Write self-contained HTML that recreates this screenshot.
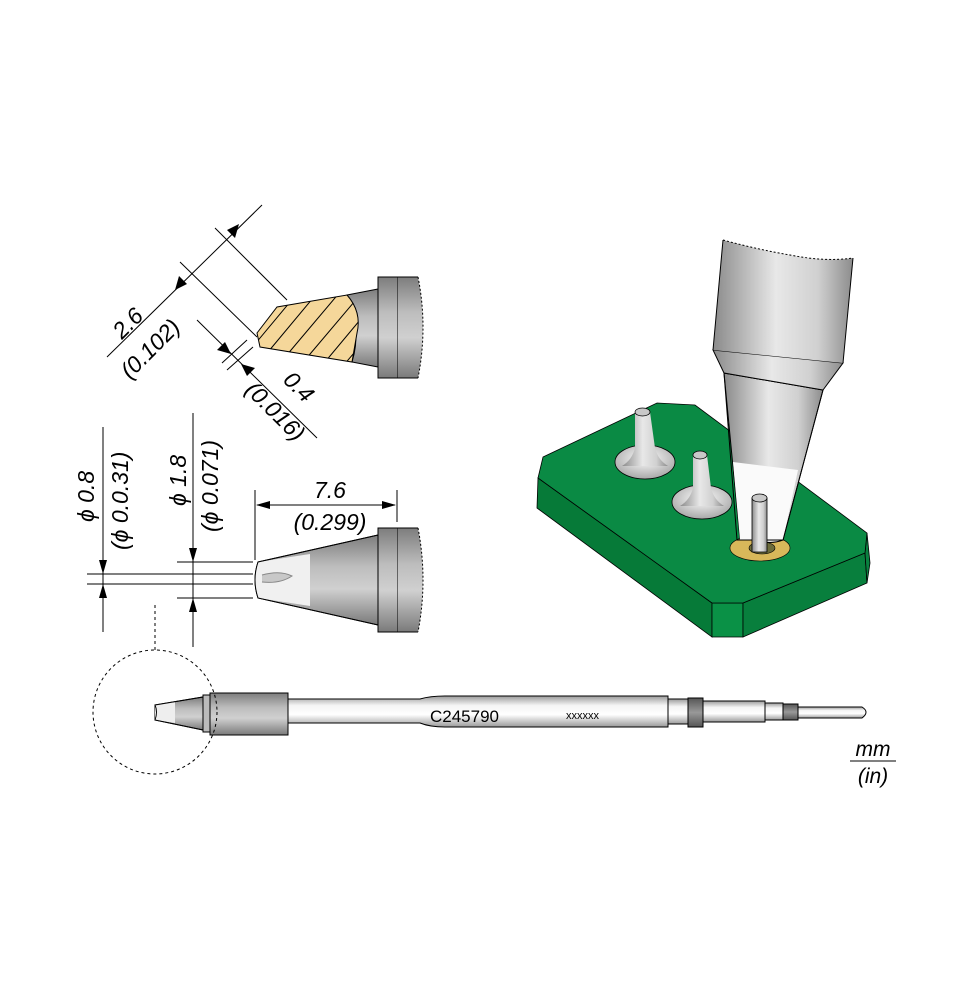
<!DOCTYPE html>
<html><head><meta charset="utf-8"><style>
html,body{margin:0;padding:0;background:#fff;}
svg{display:block;}
text{font-family:"Liberation Sans",Arial,sans-serif;}
</style></head><body>
<svg width="961" height="1000" viewBox="0 0 961 1000" xmlns="http://www.w3.org/2000/svg">
<defs>
<linearGradient id="gv" x1="0" y1="0" x2="0" y2="1">
<stop offset="0" stop-color="#7d7d7d"/><stop offset="0.35" stop-color="#bdbdbd"/><stop offset="0.6" stop-color="#d0d0d0"/><stop offset="1" stop-color="#7a7a7a"/></linearGradient>
<linearGradient id="gs" x1="0" y1="0" x2="0" y2="1">
<stop offset="0" stop-color="#9a9a9a"/><stop offset="0.3" stop-color="#f4f4f4"/><stop offset="0.6" stop-color="#ffffff"/><stop offset="1" stop-color="#9a9a9a"/></linearGradient>
<linearGradient id="gd" x1="0" y1="0" x2="0" y2="1">
<stop offset="0" stop-color="#555"/><stop offset="0.5" stop-color="#999"/><stop offset="1" stop-color="#555"/></linearGradient>
<linearGradient id="gh" x1="0" y1="0" x2="1" y2="0">
<stop offset="0" stop-color="#8a8a8a"/><stop offset="0.45" stop-color="#e8e8e8"/><stop offset="0.75" stop-color="#d0d0d0"/><stop offset="1" stop-color="#8c8c8c"/></linearGradient>
<radialGradient id="gp" cx="0.5" cy="0.4" r="0.6">
<stop offset="0" stop-color="#ffffff"/><stop offset="1" stop-color="#a8a8a8"/></radialGradient>
<clipPath id="hc"><path d="M257,333 L277,307 L347,295 Q362,312 357,333 L352,362 L260,347 Z"/></clipPath>
</defs>

<!-- ===== Top angled tip ===== -->
<g stroke="#000" stroke-width="1" fill="none">
<line x1="107" y1="357" x2="262" y2="205"/>
<line x1="180" y1="262" x2="257" y2="337"/>
<line x1="215" y1="228" x2="287" y2="300"/>
<line x1="197" y1="320" x2="317" y2="438"/>
<line x1="222" y1="363" x2="247" y2="340"/>
<line x1="227" y1="370" x2="253" y2="347"/>
</g>
<path d="M175,290 l4,-14 l8,8 z" fill="#000"/>
<path d="M239,224 l-4,14 l-8,-8 z" fill="#000"/>
<path d="M231,354 l-14,-4 l8,-8 z" fill="#000"/>
<path d="M241,364 l14,4 l-8,8 z" fill="#000"/>
<text font-size="23" font-style="italic" transform="translate(122,340) rotate(-45)">2.6</text>
<text font-size="23" font-style="italic" transform="translate(130,380) rotate(-45)">(0.102)</text>
<text font-size="23" font-style="italic" transform="translate(282,381) rotate(45)">0.4</text>
<text font-size="23" font-style="italic" transform="translate(244,391) rotate(45)">(0.016)</text>

<path d="M347,295 L378,289 L378,367 L352,362 Q362,330 347,295 Z" fill="url(#gv)" stroke="#000"/>
<rect x="378" y="277" width="20" height="101" fill="url(#gv)" stroke="#000"/>
<path d="M398,277 L418,277 Q428,327 418,378 L398,378 Z" fill="url(#gv)" stroke="none"/>
<path d="M398,277 L418,277 M398,378 L418,378" stroke="#000"/>
<path d="M418,277 Q428,327 418,378" stroke="#000" stroke-dasharray="2,2" fill="none"/>
<path d="M257,333 L277,307 L347,295 Q362,312 357,333 L352,362 L260,347 Z" fill="#f5d79a"/>
<g clip-path="url(#hc)" stroke="#000" stroke-width="1">
<line x1="250" y1="350" x2="300" y2="290"/><line x1="268" y1="352" x2="318" y2="292"/>
<line x1="286" y1="356" x2="340" y2="292"/><line x1="305" y1="360" x2="360" y2="295"/>
<line x1="325" y1="362" x2="370" y2="308"/><line x1="343" y1="366" x2="375" y2="328"/>
</g>
<path d="M257,333 L277,307 L347,295 Q362,312 357,333 L352,362 L260,347 Z" fill="none" stroke="#000"/>

<!-- ===== Middle tip ===== -->
<g stroke="#000" stroke-width="1">
<line x1="103" y1="427" x2="103" y2="632"/>
<line x1="193" y1="413" x2="193" y2="647"/>
<line x1="87" y1="574" x2="253" y2="574"/>
<line x1="87" y1="584" x2="253" y2="584"/>
<line x1="177" y1="562" x2="253" y2="562"/>
<line x1="177" y1="598" x2="253" y2="598"/>
<line x1="255" y1="490" x2="255" y2="560"/>
<line x1="397" y1="490" x2="397" y2="522"/>
<line x1="257" y1="505" x2="395" y2="505"/>
</g>
<path d="M103,574 l-4,-14 l8,0 z M103,584 l-4,14 l8,0 z M193,562 l-4,-14 l8,0 z M193,598 l-4,14 l8,0 z M256,505 l14,-4 l0,8 z M396,505 l-14,-4 l0,8 z" fill="#000"/>
<line x1="155" y1="605" x2="155" y2="650" stroke="#000" stroke-dasharray="3,3"/>
<text font-size="23" font-style="italic" transform="translate(94,522) rotate(-90)">ϕ 0.8</text>
<text font-size="23" font-style="italic" transform="translate(128,550) rotate(-90)">(ϕ 0.0.31)</text>
<text font-size="23" font-style="italic" transform="translate(186,506) rotate(-90)">ϕ 1.8</text>
<text font-size="23" font-style="italic" transform="translate(218,532) rotate(-90)">(ϕ 0.071)</text>
<text x="330" y="498" font-size="23" font-style="italic" text-anchor="middle">7.6</text>
<text x="330" y="530" font-size="23" font-style="italic" text-anchor="middle">(0.299)</text>

<path d="M258,562 L378,535 L378,625 L258,598 Q252,580 258,562 Z" fill="url(#gv)" stroke="#000"/>
<path d="M258,562 L310,554 L310,606 L258,598 Q252,580 258,562 Z" fill="#f0f0f0"/>
<path d="M258,562 L378,535 L378,625 L258,598 Q252,580 258,562 Z" fill="none" stroke="#000"/>
<path d="M262,575 Q280,570 292,576 Q280,584 262,582" fill="#c8c8c8" stroke="#888"/>
<rect x="378" y="528" width="20" height="104" fill="url(#gv)" stroke="#000"/>
<path d="M398,528 L418,528 Q428,580 418,632 L398,632 Z" fill="url(#gv)"/>
<path d="M398,528 L418,528 M398,632 L418,632" stroke="#000"/>
<path d="M418,528 Q428,580 418,632" stroke="#000" stroke-dasharray="2,2" fill="none"/>

<!-- ===== Bottom cartridge ===== -->
<path d="M288,699 L420,699 Q430,696 445,696 L668,696 L668,727 L445,727 Q430,727 420,723 L288,723 Z" fill="url(#gs)" stroke="#000"/>
<path d="M668,699 L688,699 L688,724 L668,724 Z" fill="url(#gs)" stroke="#000"/>
<rect x="688" y="698" width="15" height="29" fill="url(#gd)" stroke="#000"/>
<rect x="703" y="701" width="62" height="21" fill="url(#gs)" stroke="#000"/>
<rect x="765" y="703" width="18" height="17" fill="url(#gs)" stroke="#000"/>
<rect x="783" y="704" width="15" height="16" fill="url(#gd)" stroke="#000"/>
<path d="M798,707 L862,707 Q870,712 862,718 L798,718 Z" fill="url(#gs)" stroke="#000"/>
<rect x="210" y="693" width="78" height="42" fill="url(#gv)" stroke="#000"/>
<path d="M155,705 L203,697 L203,730 L155,720 Z" fill="url(#gv)" stroke="#000"/>
<path d="M155,705 L175,702 L175,723 L155,720 Z" fill="#eee" stroke="none"/>
<path d="M155,705 L203,697 L203,730 L155,720 Q158,712 155,705 Z" fill="none" stroke="#000"/>
<rect x="203" y="695" width="7" height="37" fill="#bbb" stroke="#000"/>
<circle cx="155" cy="712" r="62" fill="none" stroke="#000" stroke-dasharray="3,3"/>
<text x="430" y="722" font-size="17">C245790</text>
<text x="566" y="719" font-size="11">xxxxxx</text>

<text x="873" y="756" font-size="21" font-style="italic" text-anchor="middle">mm</text>
<line x1="850" y1="761" x2="896" y2="761" stroke="#000"/>
<text x="873" y="783" font-size="21" font-style="italic" text-anchor="middle">(in)</text>

<!-- ===== 3D board ===== -->
<path d="M538,478 L712,603 L712,637 L537,508 Z" fill="#067a38" stroke="#000" stroke-width="0.8"/>
<path d="M712,603 L743,603 L743,637 L712,637 Z" fill="#0a9146" stroke="#000" stroke-width="0.8"/>
<path d="M743,603 L865,553 L867,583 L743,637 Z" fill="#087f3d" stroke="#000" stroke-width="0.8"/>
<path d="M865,553 L867,533 L870,563 L867,583 Z" fill="#0a8040" stroke="#000" stroke-width="0.8"/>
<path d="M543,457 L657,403 L695,405 L867,533 L865,553 L743,603 L712,603 L538,478 Z" fill="#0a8a44" stroke="#000" stroke-width="0.8"/>
<ellipse cx="645" cy="462" rx="30" ry="17" fill="url(#gp)" stroke="#000" stroke-width="0.8"/>
<path d="M635,412 L635,448 Q632,460 622,466 L668,466 Q658,460 655,448 L650,412 Z" fill="url(#gh)"/>
<ellipse cx="642.5" cy="412" rx="7.5" ry="4" fill="#c8c8c8" stroke="#000" stroke-width="0.8"/>
<ellipse cx="702" cy="502" rx="30" ry="17" fill="url(#gp)" stroke="#000" stroke-width="0.8"/>
<path d="M693,455 L693,488 Q690,500 680,506 L724,506 Q714,500 711,488 L707,455 Z" fill="url(#gh)"/>
<ellipse cx="700" cy="455" rx="7" ry="4" fill="#c8c8c8" stroke="#000" stroke-width="0.8"/>
<ellipse cx="760" cy="548" rx="30" ry="13" fill="#d8b85a" stroke="#000" stroke-width="0.6"/>
<ellipse cx="762" cy="548" rx="13" ry="6" fill="#6b6b3a" stroke="#000" stroke-width="0.6"/>
<path d="M724,373 L823,390 L783,540 Q770,545 757,540 L740,540 Z" fill="url(#gh)" stroke="#000"/>
<path d="M733,462 L798,470 L783,540 L740,540 Z" fill="#fafafa"/>
<path d="M724,373 L823,390 L783,540 L737,540 Z" fill="none" stroke="#000"/>
<path d="M713,350 L843,363 L823,390 L724,373 Z" fill="url(#gh)" stroke="#000"/>
<path d="M723,240 Q760,250 790,255 Q825,262 853,258 L843,363 L713,350 Z" fill="url(#gh)"/>
<path d="M723,240 L713,350 M853,258 L843,363" stroke="#000" fill="none"/>
<path d="M723,240 Q760,250 790,255 Q825,262 853,258" stroke="#000" stroke-dasharray="2,2" fill="none"/>
<path d="M752,498 L752,552 L767,552 L767,498 Z" fill="url(#gh)" stroke="#000" stroke-width="0.8"/>
<ellipse cx="759.5" cy="498" rx="7.5" ry="4" fill="#c8c8c8" stroke="#000" stroke-width="0.8"/>
</svg>
</body></html>
